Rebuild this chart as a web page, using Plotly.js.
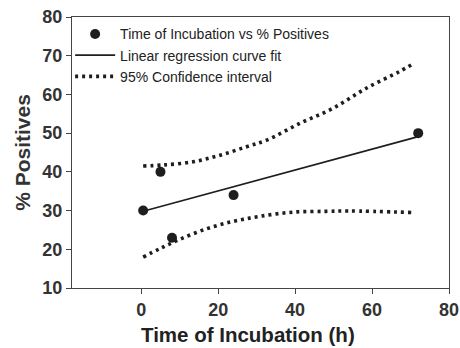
<!DOCTYPE html>
<html>
<head>
<meta charset="utf-8">
<script src="https://cdn.plot.ly/plotly-3.0.1.min.js"></script>
<style>html,body{margin:0;padding:0;background:#fff;}#chart{width:460px;height:348px;}</style>
</head>
<body>
<div id="chart"></div>
<script>
// Observed data
var incubationTime = [0.5, 5, 8, 24, 72];
var percentPositives = [30, 40, 23, 34, 50];

// Linear regression fit (end points)
var fitX = [0.5, 72];
var fitY = [29.8, 49.1];

// 95% confidence interval
var ciUpperX = [0.5, 6, 13.5, 20.5, 27.4, 32.6, 41.2, 49.8, 58.5, 67.1, 70.5];
var ciUpperY = [41.5, 41.8, 42.6, 44.3, 46.5, 48.2, 52.5, 56.4, 61.6, 65.9, 67.8];
var ciLowerX = [0.5, 4.9, 10.1, 17, 23.9, 30.8, 39.5, 48.1, 54.1, 70.5];
var ciLowerY = [18.0, 20.2, 22.6, 25.3, 27.2, 28.5, 29.6, 29.8, 29.9, 29.5];

var xTicks = [0, 20, 40, 60, 80];
var yTicks = [10, 20, 30, 40, 50, 60, 70, 80];

var ink = '#1e1e1e';
var fam = 'Liberation Sans, Arial, sans-serif';
var traces = [
  {x: incubationTime, y: percentPositives, type: 'scatter', mode: 'markers',
   name: 'Time of Incubation vs % Positives',
   marker: {color: ink, size: 10}},
  {x: fitX, y: fitY, type: 'scatter', mode: 'lines',
   name: 'Linear regression curve fit',
   line: {color: ink, width: 1.6}},
  {x: ciUpperX, y: ciUpperY, type: 'scatter', mode: 'lines',
   name: '95% Confidence interval', legendgroup: 'ci',
   line: {color: ink, width: 3.6, dash: '3px,4px', shape: 'spline'}},
  {x: ciLowerX, y: ciLowerY, type: 'scatter', mode: 'lines',
   name: '95% Confidence interval', legendgroup: 'ci', showlegend: false,
   line: {color: ink, width: 3.6, dash: '3px,4px', shape: 'spline'}}
];

var layout = {
  width: 460, height: 348,
  margin: {l: 72, r: 11, t: 17, b: 60},
  paper_bgcolor: '#fff', plot_bgcolor: '#fff',
  showlegend: true,
  legend: {x: -0.005, y: 0.995, xanchor: 'left', yanchor: 'top', bgcolor: 'rgba(0,0,0,0)',
    font: {family: fam, size: 14, color: '#222'},
    tracegroupgap: 0, itemwidth: 40},
  xaxis: {range: [-18, 80], tickvals: xTicks, ticktext: xTicks.map(String),
    showgrid: false, zeroline: false, showline: true, mirror: true,
    linecolor: '#444', linewidth: 1, ticks: 'outside', ticklen: 5, tickcolor: '#444',
    tickfont: {family: fam, size: 18, color: '#333', weight: 'bold'}},
  yaxis: {range: [10, 80], tickvals: yTicks, ticktext: yTicks.map(String),
    showgrid: false, zeroline: false, showline: true, mirror: true,
    linecolor: '#444', linewidth: 1, ticks: 'outside', ticklen: 5, tickcolor: '#444',
    tickfont: {family: fam, size: 18, color: '#333', weight: 'bold'},
    title: {text: '<b>% Positives</b>', standoff: 6,
      font: {family: fam, size: 21, color: '#333'}}},
  annotations: [{text: '<b>Time of Incubation (h)</b>', xref: 'paper', yref: 'paper',
    x: (248 - 72) / 377, y: -0.17, xanchor: 'center', yanchor: 'middle', showarrow: false,
    font: {family: fam, size: 20.5, color: '#222'}}]
};

Plotly.newPlot('chart', traces, layout, {staticPlot: true, displayModeBar: false});
</script>
</body>
</html>
